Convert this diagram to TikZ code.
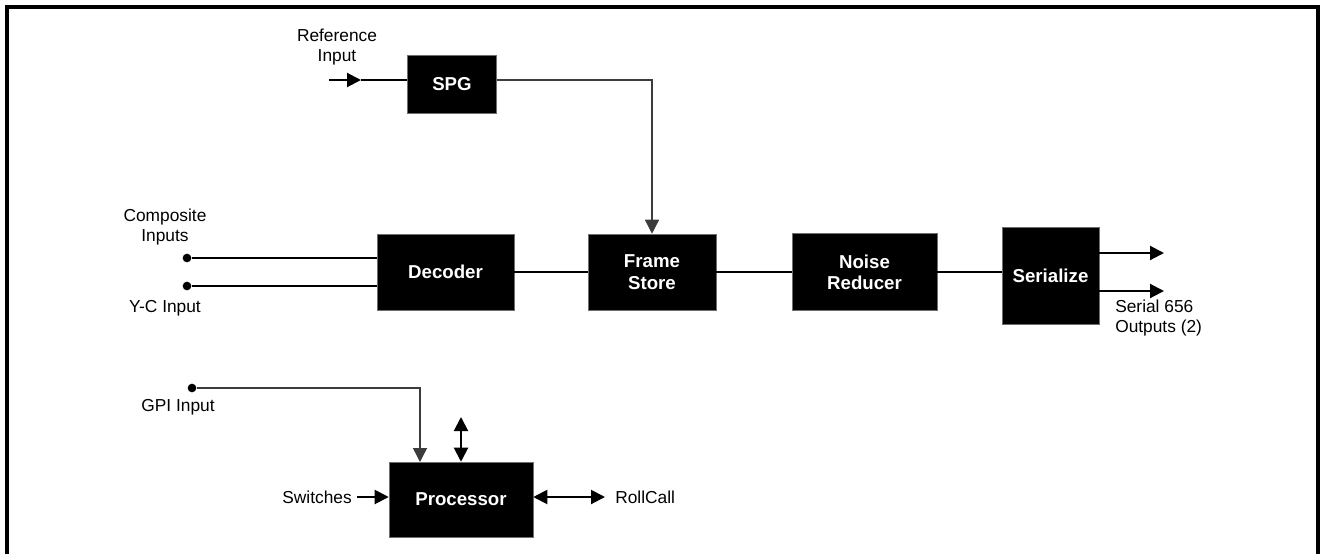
\documentclass[tikz,border=0pt]{standalone}
\usepackage{fontspec}
\setmainfont{Liberation Sans}
\usetikzlibrary{arrows.meta, positioning, calc}
\definecolor{boxborder}{RGB}{110,110,110}
\definecolor{wiregray}{RGB}{60,60,60}
\tikzset{
    block/.style={rectangle, draw=boxborder, fill=black, text=white, align=center,
        inner sep=0pt, font=\fontsize{14}{16}\selectfont\bfseries},
    lbl/.style={inner sep=0pt, align=center, font=\fontsize{13}{15}\selectfont},
    wire/.style={line width=1.5pt},
    arrow/.style={-{Triangle[length=10.5pt,width=10.5pt]}, line width=1.5pt},
    dblarrow/.style={{Triangle[length=10.5pt,width=10.5pt]}-{Triangle[length=10.5pt,width=10.5pt]}, line width=1.5pt},
    thinarrow/.style={-{Triangle[length=10.5pt,width=10.5pt]}, line width=1.1pt, draw=wiregray},
    dot/.style={circle, fill=black, inner sep=0pt, minimum size=6.5pt}
}

\begin{document}
\begin{tikzpicture}[x=0.75pt, y=-0.75pt]

    \useasboundingbox (0,0) rectangle (1324,554);
    % frame, open at the bottom
    \draw[line width=3pt] (7,554) -- (7,7) -- (1318,7) -- (1318,554);

    \node[block, minimum width=66.75pt, minimum height=43.5pt] (spg) at (452,84) {SPG};
    \node[block, minimum width=102.75pt, minimum height=57pt] (decoder) at (445.5,272) {Decoder};
    \node[block, minimum width=96pt, minimum height=57pt] (fstore) at (652,272) {Frame\\Store};
    \node[block, minimum width=108.75pt, minimum height=57.75pt] (nreducer) at (864.5,272) {Noise\\Reducer};
    \node[block, minimum width=72.75pt, minimum height=72.75pt] (serial) at (1050.5,275.5) {Serialize};
    \node[block, minimum width=108pt, minimum height=56.25pt] (proc) at (461,499.5) {Processor};

    \node[lbl] (reflbl) at (337,47) {Reference\\Input};
    \node[lbl] (complbl) at (165,227) {Composite\\Inputs};
    \node[lbl] (yclbl) at (165,308) {Y-C Input};
    \node[lbl] (gpilbl) at (178,407) {GPI Input};
    \node[lbl, anchor=east] (swlbl) at (352,497) {Switches};
    \node[lbl, anchor=west] (rclbl) at (615,497) {RollCall};
    \node[lbl, anchor=west, align=left] (outlbl) at (1115,318) {Serial 656\\Outputs (2)};

    \node[dot] (compin) at (187,258) {};
    \node[dot] (ycin) at (187,286) {};
    \node[dot] (gpiin) at (192,388) {};

    \coordinate (refin) at (329,80);
    \coordinate (refmid) at (361,80);
    \coordinate (out1) at (1164,253);
    \coordinate (out2) at (1164,291);
    \coordinate (gpiend) at (420,462);
    \coordinate (bus) at (461,417);

    \draw[arrow] (refin) -- (refmid);
    \draw[wire] (refmid) -- (refmid -| spg.west);
    \draw[thinarrow] ([yshift=3pt]spg.east) -| (fstore.north);

    \draw[wire] (compin) -- (compin -| decoder.west);
    \draw[wire] (ycin) -- (ycin -| decoder.west);
    \draw[wire] (decoder.east) -- (fstore.west);
    \draw[wire] (fstore.east) -- (nreducer.west);
    \draw[wire] (nreducer.east) -- (nreducer.east -| serial.west);
    \draw[arrow] (out1 -| serial.east) -- (out1);
    \draw[arrow] (out2 -| serial.east) -- (out2);

    \draw[thinarrow] (gpiin) -| (gpiend);
    \draw[dblarrow] (bus) -- (proc.north);
    \draw[arrow] ([xshift=3.75pt]swlbl.east) -- (swlbl.east -| proc.west);
    \draw[dblarrow] (rclbl.west -| proc.east) -- ([xshift=-7.5pt]rclbl.west);

\end{tikzpicture}
\end{document}
